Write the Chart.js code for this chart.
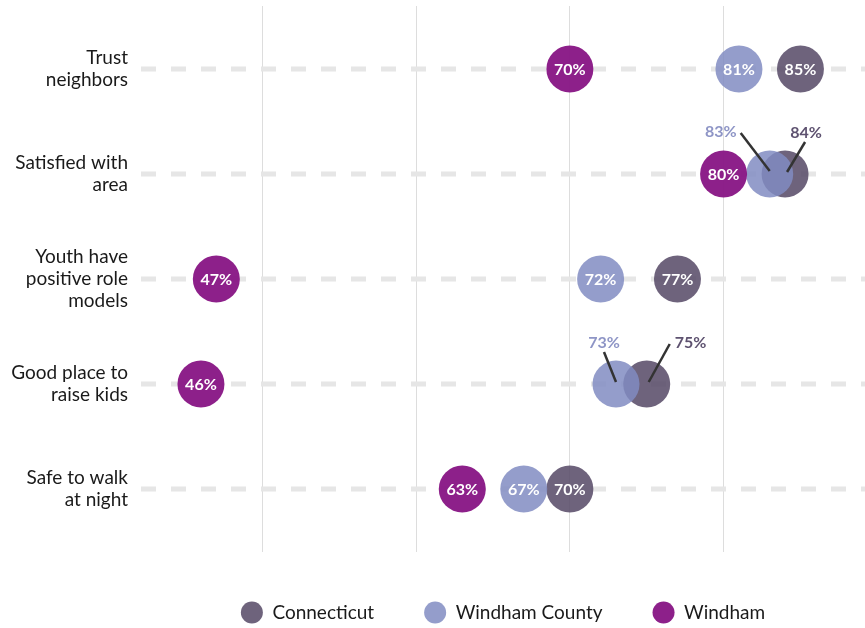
<!DOCTYPE html>
<html>
<head>
<meta charset="utf-8">
<script src="https://cdn.jsdelivr.net/npm/chart.js@4/dist/chart.umd.min.js"></script>
<style>
  html, body { margin: 0; padding: 0; background: #ffffff; }
  #wrap { width: 865px; height: 628px; }
</style>
</head>
<body>
<div id="wrap"><canvas id="c" width="865" height="628"></canvas></div>
<script>
// ---- data ----
const categories = [
  ["Trust", "neighbors"],
  ["Satisfied with", "area"],
  ["Youth have", "positive role", "models"],
  ["Good place to", "raise kids"],
  ["Safe to walk", "at night"]
];
const seriesNames = ["Connecticut", "Windham County", "Windham"];
const connecticut   = [85, 84, 77, 75, 70];
const windhamCounty = [81, 83, 72, 73, 67];
const windham       = [70, 80, 47, 46, 63];
const gridTicks = [50, 60, 70, 80];

// ---- styles ----
const fillColors = ["rgba(90,77,106,0.88)", "rgba(129,140,194,0.85)", "rgba(135,20,132,0.95)"];
const calloutTextColors = ["#5e5270", "#8e95c6", "#8e95c6"];
const FONT = "Lato, 'Source Sans Pro', 'Noto Sans', sans-serif";

// callout layout for overlapping circles (row index -> series index -> offsets)
const calloutLayout = {
  1: {
    1: { line: [0, -3, -29, -41], text: [-33, -42], align: "right" },
    0: { line: [2, -2, 20, -32], text: [21, -41], align: "center" }
  },
  3: {
    1: { line: [0, -2, -12, -32], text: [-12, -41], align: "center" },
    0: { line: [2, -2, 23, -40], text: [28, -41], align: "left" }
  }
};

const seriesValues = [connecticut, windhamCounty, windham];

const datasets = seriesNames.map((name, s) => ({
  label: name,
  data: seriesValues[s].map((v, i) => ({ x: v, y: i })),
  backgroundColor: fillColors[s],
  borderColor: fillColors[s],
  borderWidth: 0,
  pointRadius: 23.5,
  pointHoverRadius: 23.5,
  order: 3 - s
}));

const rowLinesPlugin = {
  id: "rowLines",
  beforeDatasetsDraw(chart) {
    const { ctx, chartArea, scales } = chart;
    ctx.save();
    ctx.strokeStyle = "#e6e6e6";
    ctx.lineWidth = 5;
    ctx.setLineDash([15, 15]);
    categories.forEach((c, i) => {
      const y = scales.y.getPixelForValue(i);
      ctx.beginPath();
      ctx.moveTo(chartArea.left, y);
      ctx.lineTo(chartArea.right, y);
      ctx.stroke();
    });
    ctx.restore();
  }
};

const valueLabelsPlugin = {
  id: "valueLabels",
  afterDatasetsDraw(chart) {
    const { ctx } = chart;
    ctx.save();
    ctx.font = "bold 16px " + FONT;
    ctx.textBaseline = "middle";
    chart.data.datasets.forEach((ds, s) => {
      const meta = chart.getDatasetMeta(s);
      meta.data.forEach((pt, i) => {
        const text = seriesValues[s][i] + "%";
        const co = calloutLayout[i] && calloutLayout[i][s];
        if (co) {
          ctx.strokeStyle = "#333333";
          ctx.lineWidth = 2.5;
          ctx.setLineDash([]);
          ctx.beginPath();
          ctx.moveTo(pt.x + co.line[0], pt.y + co.line[1]);
          ctx.lineTo(pt.x + co.line[2], pt.y + co.line[3]);
          ctx.stroke();
          ctx.fillStyle = calloutTextColors[s];
          ctx.textAlign = co.align;
          ctx.fillText(text, pt.x + co.text[0], pt.y + co.text[1]);
        } else {
          ctx.fillStyle = "#ffffff";
          ctx.textAlign = "center";
          ctx.fillText(text, pt.x, pt.y + 1);
        }
      });
    });
    ctx.restore();
  }
};

new Chart(document.getElementById("c"), {
  type: "scatter",
  data: { datasets },
  options: {
    responsive: false,
    animation: false,
    events: [],
    layout: { autoPadding: false, padding: { top: 6, right: 0, left: 0, bottom: -4 } },
    scales: {
      x: {
        type: "linear",
        min: 42.1,
        max: 89.2,
        afterBuildTicks(scale) { scale.ticks = gridTicks.map(v => ({ value: v })); },
        afterFit(scale) { scale.height = 1; },
        ticks: { display: false },
        grid: { color: "#dddddd", lineWidth: 1, drawTicks: false },
        border: { display: false }
      },
      y: {
        type: "linear",
        reverse: true,
        min: -0.6,
        max: 4.6,
        afterBuildTicks(scale) { scale.ticks = categories.map((c, i) => ({ value: i })); },
        afterFit(scale) { scale.width = 141; scale.paddingTop = 0; scale.paddingBottom = 0; },
        ticks: {
          padding: 13,
          color: "#1a1a1a",
          font: { family: FONT, size: 19, lineHeight: "22px" },
          callback: (v) => categories[v]
        },
        grid: { display: false, drawTicks: false },
        border: { display: false }
      }
    },
    plugins: {
      legend: {
        position: "bottom",
        fullSize: false,
        labels: {
          usePointStyle: true,
          pointStyle: "circle",
          pointStyleWidth: 22,
          boxHeight: 15.56,
          padding: 50,
          color: "#1a1a1a",
          font: { family: FONT, size: 19 },
          sort: (a, b) => a.datasetIndex - b.datasetIndex
        }
      },
      tooltip: { enabled: false }
    }
  },
  plugins: [rowLinesPlugin, valueLabelsPlugin]
});
</script>
</body>
</html>
